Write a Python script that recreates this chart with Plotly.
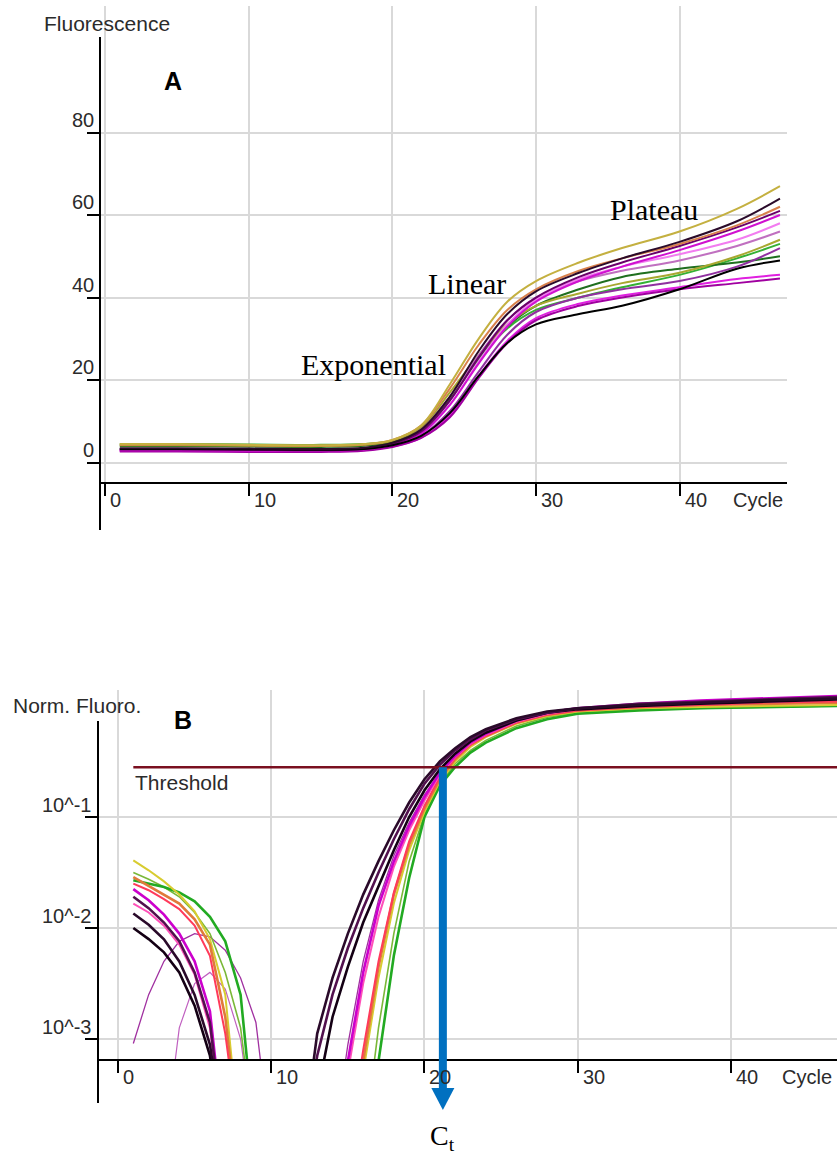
import math
import plotly.graph_objects as go

W, H = 837, 1158

# ---------------- Panel A: raw fluorescence ----------------
A_CYCLES = [1, 5, 10, 15, 18, 20, 22, 24, 26, 28, 30, 33, 36, 40, 44, 47]
A_YELLOW = [4.5, 4.5, 4.3, 4.2, 4.5, 5.5, 9.0, 19.0, 30.0, 39.0, 44.0, 48.5, 52.0, 56.0, 61.5, 67.0]
A_DARK = [3.5, 3.5, 3.4, 3.3, 3.6, 4.8, 8.0, 16.0, 27.0, 36.0, 41.5, 46.0, 49.5, 53.5, 58.5, 64.0]
A_ORANGE = [4.3, 4.3, 4.2, 4.1, 4.4, 5.5, 9.0, 18.0, 28.5, 37.0, 42.0, 46.5, 49.5, 53.0, 57.5, 62.0]
A_PURPLE = [3.2, 3.2, 3.1, 3.0, 3.3, 4.5, 7.5, 15.0, 25.5, 34.5, 40.0, 45.0, 48.5, 52.5, 57.0, 61.0]
A_MAGENTA = [3.0, 3.0, 2.9, 2.9, 3.2, 4.3, 7.0, 14.0, 24.0, 33.0, 39.0, 44.0, 47.5, 51.5, 56.0, 60.0]
A_PINK = [3.0, 3.0, 2.9, 2.9, 3.1, 4.2, 7.0, 14.0, 24.5, 33.5, 39.5, 44.5, 47.5, 50.5, 54.0, 58.0]
A_LILAC = [3.3, 3.3, 3.2, 3.1, 3.4, 4.6, 8.0, 16.0, 26.0, 34.5, 40.0, 44.0, 46.5, 49.0, 52.5, 56.0]
A_OLIVE = [4.2, 4.2, 4.1, 4.0, 4.3, 5.3, 8.5, 17.0, 26.0, 33.5, 38.0, 41.0, 43.5, 46.0, 50.0, 54.0]
A_GREEN = [4.5, 4.5, 4.4, 4.3, 4.5, 5.3, 8.0, 15.5, 25.0, 32.5, 37.0, 40.0, 42.5, 45.5, 49.5, 53.0]
A_VIOLET = [3.0, 3.0, 2.9, 2.8, 3.1, 4.1, 6.5, 12.5, 22.0, 31.0, 36.5, 40.0, 42.0, 44.0, 47.5, 52.0]
A_DKGREEN = [4.0, 4.0, 3.9, 3.8, 4.1, 5.0, 8.0, 15.5, 25.5, 33.0, 38.0, 42.0, 45.0, 47.0, 48.5, 50.0]
A_BLACK = [3.3, 3.3, 3.2, 3.1, 3.3, 4.2, 6.5, 12.0, 21.0, 29.0, 33.5, 36.0, 38.0, 42.0, 47.0, 49.0]
A_FUCHSIA = [2.8, 2.8, 2.7, 2.7, 3.0, 3.9, 6.0, 11.5, 21.0, 29.5, 35.0, 38.5, 40.5, 42.5, 44.5, 45.5]
A_PLUM = [2.7, 2.7, 2.6, 2.6, 2.9, 3.8, 6.0, 11.0, 20.5, 29.0, 34.5, 38.0, 40.0, 42.0, 43.5, 44.6]

A_LIST = [A_GREEN, A_DKGREEN, A_OLIVE, A_LILAC, A_PINK, A_VIOLET, A_FUCHSIA, A_PLUM,
          A_MAGENTA, A_PURPLE, A_ORANGE, A_BLACK, A_DARK, A_YELLOW]
A_COLORS = ["#35b035", "#1f6f1f", "#a8a830", "#c070c0", "#f27cf0", "#9030a0", "#e020e0", "#a000a0",
            "#d010d0", "#6a006a", "#d8804c", "#000000", "#2a0a2a", "#c4b040"]

A_XTICKS = [0, 10, 20, 30, 40]
A_YTICKS = [0, 20, 40, 60, 80]

# ---------------- Panel B: normalised fluorescence (log) ----------------
B_CYCLES = [1, 2, 3, 4, 5, 6, 7, 8, 9, 10, 12, 13, 14, 15, 16, 17, 18, 19, 20, 21,
            22, 23, 24, 26, 28, 30, 34, 38, 42, 47]
N = None
B_D1 = [0.0135, 0.0107, 0.0079, 0.0050, 0.0025, 0.00089, 0.0001, N, N, N,
        0.0001, 0.00112, 0.00355, 0.0089, 0.020, 0.040, 0.076, 0.135, 0.219, 0.316,
        0.417, 0.525, 0.617, 0.776, 0.891, 0.955, 1.02, 1.07, 1.12, 1.17]
B_D2 = [0.0191, 0.0151, 0.0112, 0.00759, 0.00398, 0.00141, 0.0001, N, N, N,
        0.0001, 0.000708, 0.00251, 0.00661, 0.0151, 0.0316, 0.0631, 0.1175, 0.1995, 0.295,
        0.398, 0.501, 0.603, 0.759, 0.871, 0.955, 1.047, 1.096, 1.148, 1.202]
B_D3 = [0.0100, 0.00794, 0.00603, 0.00398, 0.0020, 0.000708, 0.0001, N, N, N,
        0.0001, 0.000316, 0.00158, 0.00447, 0.0112, 0.024, 0.0501, 0.100, 0.174, 0.269,
        0.372, 0.479, 0.575, 0.741, 0.871, 0.933, 1.0, 1.047, 1.096, 1.148]
B_V1 = [0.000912, 0.00251, 0.00501, 0.00759, 0.00891, 0.00832, 0.00631, 0.00355, 0.00141, 0.0001,
        N, N, 0.0001, 0.000891, 0.00501, 0.0178, 0.0447, 0.0891, 0.158, 0.251,
        0.355, 0.457, 0.550, 0.724, 0.851, 0.933, 1.023, 1.072, 1.122, 1.175]
B_M1 = [0.0224, 0.0178, 0.0132, 0.00891, 0.00501, 0.00178, 0.0001, N, N, N,
        N, N, 0.0001, 0.000631, 0.00398, 0.0158, 0.0398, 0.0832, 0.151, 0.251,
        0.355, 0.468, 0.562, 0.741, 0.871, 0.955, 1.047, 1.122, 1.175, 1.23]
B_P1 = [0.0166, 0.0138, 0.0105, 0.00708, 0.0038, 0.00126, 0.0001, N, N, N,
        N, N, 0.0001, 0.000501, 0.00316, 0.0126, 0.0355, 0.0759, 0.141, 0.240,
        0.347, 0.457, 0.550, 0.724, 0.851, 0.933, 1.0, 1.047, 1.096, 1.148]
B_O1 = [0.0288, 0.024, 0.020, 0.0166, 0.012, 0.00708, 0.00158, 0.0001, N, N,
        N, N, N, 0.0001, 0.000631, 0.00447, 0.020, 0.0562, 0.120, 0.219,
        0.331, 0.447, 0.537, 0.708, 0.832, 0.912, 0.977, 1.023, 1.047, 1.072]
B_R1 = [0.0251, 0.0219, 0.0182, 0.0148, 0.0105, 0.00562, 0.00112, 0.0001, N, N,
        N, N, N, 0.0001, 0.000794, 0.00501, 0.0209, 0.0603, 0.126, 0.229,
        0.339, 0.447, 0.537, 0.708, 0.832, 0.912, 0.977, 1.023, 1.072, 1.096]
B_Y1 = [0.0407, 0.0331, 0.0263, 0.020, 0.0141, 0.00794, 0.00251, 0.0001, N, N,
        N, N, N, 0.0001, 0.000501, 0.00355, 0.0166, 0.0501, 0.112, 0.209,
        0.316, 0.427, 0.525, 0.692, 0.813, 0.891, 0.955, 0.977, 1.0, 1.023]
B_G1 = [0.0269, 0.0251, 0.0234, 0.0209, 0.0174, 0.0126, 0.00759, 0.00251, 0.0001, N,
        N, N, N, N, 0.0001, 0.000631, 0.00562, 0.0282, 0.100, 0.191,
        0.282, 0.380, 0.468, 0.631, 0.759, 0.851, 0.912, 0.955, 0.977, 1.0]
B_G2 = [0.0316, 0.0275, 0.0234, 0.0191, 0.0138, 0.00891, 0.00398, 0.00126, 0.0001, N,
        N, N, N, N, 0.0001, 0.00126, 0.00891, 0.0398, 0.105, 0.200,
        0.302, 0.398, 0.490, 0.661, 0.794, 0.871, 0.933, 0.955, 0.977, 1.0]
B_T2 = [N, N, 0.0001, 0.00126, 0.00316, 0.00398, 0.00282, 0.0010, 0.0001, N,
        N, N, N, N, N, N, N, N, N, N, N, N, N, N, N, N, N, N, N, N]

B_LIST = [B_T2, B_V1, B_G2, B_G1, B_Y1, B_O1, B_R1, B_P1, B_M1, B_D3, B_D2, B_D1]
B_COLORS = ["#c060c0", "#a030a0", "#7ab838", "#22aa22", "#d8cc30", "#e07a3a", "#ff3a5a",
            "#ff50b8", "#cc00cc", "#140014", "#52104e", "#2a0a2a"]
B_WIDTHS = [1.2, 1.3, 1.6, 2.6, 2.0, 2.6, 2.0, 2.0, 2.6, 2.6, 2.6, 2.6]

B_XTICKS = [0, 10, 20, 30, 40]
B_YTICKS = [1e-3, 1e-2, 1e-1]
B_YTICKTEXT = ["10^-3", "10^-2", "10^-1"]
THRESHOLD = 0.28
CT_CYCLE = 21.2

# ---------------- geometry ----------------
def pxx(p):
    return p / W


def pxy(p):
    return 1 - p / H


A_XRANGE = [-0.38, 47.49]
A_YRANGE = [-4.70, 110.66]
B_XRANGE = [-1.305, 46.92]
B_YRANGE = [-3.18, 0.144]
B_PX_PER_CYCLE = (W - 98) / (B_XRANGE[1] - B_XRANGE[0])

GRID = "#d9d9d9"
TXT = "#2b2b2b"
SANS = "Liberation Sans, Arial, sans-serif"
SERIF = "Liberation Serif, Times New Roman, serif"

fig = go.Figure()

for vals, col in zip(A_LIST, A_COLORS):
    fig.add_trace(go.Scatter(x=A_CYCLES, y=vals, mode="lines",
                             line=dict(color=col, width=2, shape="spline"),
                             xaxis="x", yaxis="y", hoverinfo="skip"))

for vals, col, wd in zip(B_LIST, B_COLORS, B_WIDTHS):
    fig.add_trace(go.Scatter(x=B_CYCLES, y=vals, mode="lines",
                             line=dict(color=col, width=wd),
                             connectgaps=False,
                             xaxis="x2", yaxis="y2", hoverinfo="skip"))

# threshold line
fig.add_trace(go.Scatter(x=[1, 47], y=[THRESHOLD, THRESHOLD], mode="lines",
                         line=dict(color="#7a1020", width=2.5),
                         xaxis="x2", yaxis="y2", hoverinfo="skip"))

axcommon = dict(showgrid=True, gridcolor=GRID, gridwidth=1.5, zeroline=False,
                ticks="outside", ticklen=12, tickwidth=1.5, tickcolor="black",
                showticklabels=False, fixedrange=True)

fig.update_layout(
    width=W, height=H, margin=dict(l=0, r=0, t=0, b=0),
    paper_bgcolor="white", plot_bgcolor="white", showlegend=False,
    hovermode=False,
    xaxis=dict(domain=[pxx(100), pxx(787)], range=A_XRANGE, anchor="y",
               tickvals=A_XTICKS, showline=True, linecolor="black", linewidth=2, **axcommon),
    yaxis=dict(domain=[pxy(482), pxy(6)], range=A_YRANGE, anchor="x",
               tickvals=A_YTICKS, showline=False, **axcommon),
    xaxis2=dict(domain=[pxx(98), 1.0], range=B_XRANGE, anchor="y2",
                tickvals=B_XTICKS, showline=True, linecolor="black", linewidth=2, **axcommon),
    yaxis2=dict(domain=[pxy(1059), pxy(690)], range=B_YRANGE, anchor="x2", type="log",
                tickvals=B_YTICKS, showline=False, **axcommon),
)

# y axis lines that run past the x axes
fig.add_shape(type="line", xref="paper", yref="paper",
              x0=pxx(100), x1=pxx(100), y0=pxy(37), y1=pxy(530),
              line=dict(color="black", width=2))
fig.add_shape(type="line", xref="paper", yref="paper",
              x0=pxx(98), x1=pxx(98), y0=pxy(721), y1=pxy(1103),
              line=dict(color="black", width=2))

# Ct arrow: shaft from threshold crossing down past the axis, then a head
thr_frac = (math.log10(THRESHOLD) - B_YRANGE[0]) / (B_YRANGE[1] - B_YRANGE[0])
thr_paper = pxy(1059) + thr_frac * (pxy(690) - pxy(1059))
head_half = 11.5 / B_PX_PER_CYCLE
fig.add_shape(type="line", xref="x2", yref="paper",
              x0=CT_CYCLE, x1=CT_CYCLE, y0=thr_paper, y1=pxy(1090),
              line=dict(color="#0070c0", width=8))
fig.add_shape(type="path", xref="x2", yref="paper",
              path=f"M {CT_CYCLE - head_half},{pxy(1088)} L {CT_CYCLE + head_half},{pxy(1088)} "
                   f"L {CT_CYCLE},{pxy(1110)} Z",
              fillcolor="#0070c0", line=dict(width=0))

ann = []
tickfont = dict(family=SANS, size=20, color=TXT)
for v in A_YTICKS:
    ann.append(dict(xref="paper", x=pxx(96), xanchor="right", yref="y", y=v, yanchor="middle",
                    yshift=13, text=str(v), showarrow=False, font=tickfont))
for v in A_XTICKS:
    ann.append(dict(xref="x", x=v, xanchor="left", xshift=3, yref="paper", y=pxy(500),
                    yanchor="middle", text=str(v), showarrow=False, font=tickfont))
ann.append(dict(xref="paper", x=pxx(785), xanchor="right", yref="paper", y=pxy(500),
                yanchor="middle", text="Cycle", showarrow=False, font=tickfont))
ann.append(dict(xref="paper", x=pxx(42), xanchor="left", yref="paper", y=pxy(23),
                yanchor="middle", text="Fluorescence", showarrow=False,
                font=dict(family=SANS, size=21, color=TXT)))

for v, t in zip(B_YTICKS, B_YTICKTEXT):
    ann.append(dict(xref="paper", x=pxx(93), xanchor="right", yref="y2", y=math.log10(v),
                    yanchor="middle", yshift=12, text=t, showarrow=False, font=tickfont))
for v in B_XTICKS:
    ann.append(dict(xref="x2", x=v, xanchor="left", xshift=3, yref="paper", y=pxy(1077),
                    yanchor="middle", text=str(v), showarrow=False, font=tickfont))
ann.append(dict(xref="paper", x=pxx(834), xanchor="right", yref="paper", y=pxy(1077),
                yanchor="middle", text="Cycle", showarrow=False, font=tickfont))
ann.append(dict(xref="paper", x=pxx(11), xanchor="left", yref="paper", y=pxy(705),
                yanchor="middle", text="Norm. Fluoro.", showarrow=False,
                font=dict(family=SANS, size=21, color=TXT)))
ann.append(dict(xref="x2", x=1, xanchor="left", yref="y2", y=math.log10(THRESHOLD),
                yanchor="middle", yshift=-15, text="Threshold", showarrow=False,
                font=dict(family=SANS, size=21, color=TXT)))

# panel letters and phase labels
ann.append(dict(xref="x", x=4.7, yref="y", y=92.6, text="<b>A</b>", showarrow=False,
                font=dict(family=SANS, size=25, color="black")))
ann.append(dict(xref="x2", x=4.24, yref="y2", y=-0.126, text="<b>B</b>", showarrow=False,
                font=dict(family=SANS, size=25, color="black")))
serif = dict(family=SERIF, size=30, color="black")
ann.append(dict(xref="x", x=18.7, yref="y", y=23.8, text="Exponential", showarrow=False, font=serif))
ann.append(dict(xref="x", x=25.2, yref="y", y=43.4, text="Linear", showarrow=False, font=serif))
ann.append(dict(xref="x", x=38.2, yref="y", y=61.4, text="Plateau", showarrow=False, font=serif))

ann.append(dict(xref="x2", x=CT_CYCLE, yref="paper", y=pxy(1157), yanchor="bottom",
                text="C<sub>t</sub>", showarrow=False,
                font=dict(family=SERIF, size=28, color="black")))

fig.update_layout(annotations=ann)

fig.write_html("out.html")
